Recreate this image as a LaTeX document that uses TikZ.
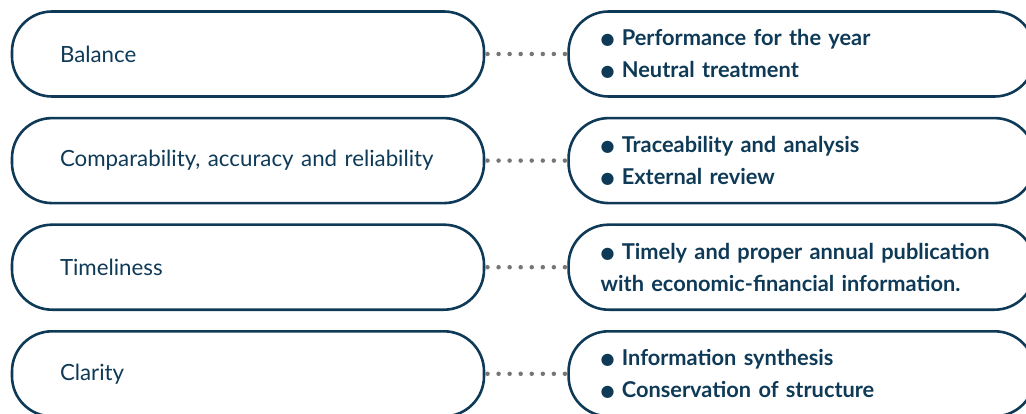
\documentclass[tikz,border=0pt]{standalone}
\usepackage{fontspec}
\setmainfont{Lato}
\newfontfamily\bulletfont{DejaVu Sans}
\usetikzlibrary{positioning}
\definecolor{qnavy}{HTML}{0E3A57}
\definecolor{qgrey}{HTML}{767676}
\newcommand{\qbul}{\raisebox{1pt}{\bulletfont\fontsize{16}{16}\selectfont ●}\ }
\tikzset{
  qbox/.style={draw=qnavy, line width=2.6pt, rounded corners=40pt,
               minimum height=85pt, text=qnavy, align=left},
  qcrit/.style={qbox, text width=376pt, inner xsep=48pt,
                font=\fontsize{22.3}{26}\selectfont},
  qnote/.style={qbox, text width=402pt, inner xsep=32pt,
                font=\bfseries\fontsize{21.8}{32}\selectfont},
  qlink/.style={qgrey, line width=4.5pt, line cap=round,
                dash pattern=on 0pt off 11.06pt,
                shorten <=2.2pt, shorten >=2.2pt},
}
\begin{document}
\begin{tikzpicture}[x=1pt,y=-1pt]
  \useasboundingbox (0,0) rectangle (1026,414);

  % --- left column: the criteria ---
  \node[qcrit] (balance) at (248,54) {Balance};
  \node[qcrit, below=19pt of balance] (compar) {Comparability, accuracy and reliability};
  \node[qcrit, below=19pt of compar] (timely) {Timeliness};
  \node[qcrit, below=19pt of timely] (clarity) {Clarity};

  % --- right column: what each one means ---
  \node[qnote, right=82pt of balance] (balancenote)
    {\qbul Performance for the year\\ \qbul Neutral treatment};
  \node[qnote, right=82pt of compar] (comparnote)
    {\qbul Traceability and analysis\\ \qbul External review};
  \node[qnote, right=82pt of timely] (timelynote)
    {\qbul Timely and proper annual publication\\ with economic-financial information.};
  \node[qnote, right=82pt of clarity] (claritynote)
    {\qbul Information synthesis\\ \qbul Conservation of structure};

  % dotted links
  \draw[qlink] (balance) -- (balancenote);
  \draw[qlink] (compar) -- (comparnote);
  \draw[qlink] (timely) -- (timelynote);
  \draw[qlink] (clarity) -- (claritynote);

\end{tikzpicture}
\end{document}
